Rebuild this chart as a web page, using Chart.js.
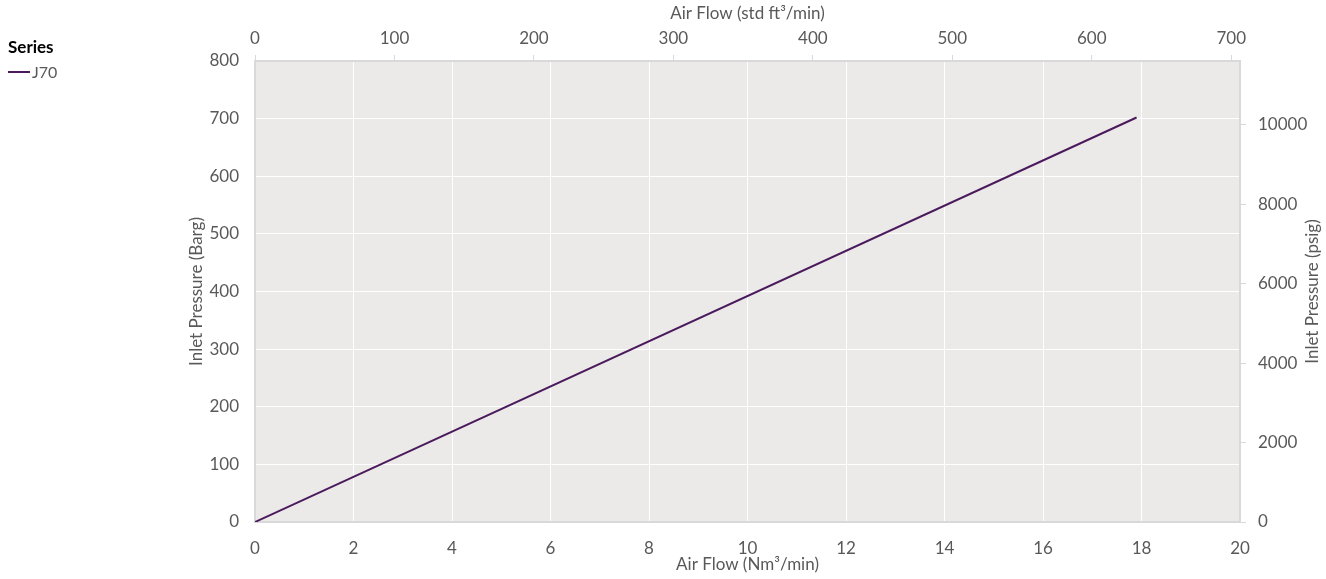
<!DOCTYPE html>
<html><head><meta charset="utf-8">
<script src="https://cdn.jsdelivr.net/npm/chart.js@4/dist/chart.umd.min.js"></script>
<style>
html,body{margin:0;padding:0;background:#fff;}
#wrap{position:relative;width:1326px;height:579px;}
#legend{position:absolute;left:8px;top:36px;font-family:Lato,"Open Sans",sans-serif;color:#595959;}
#legend .t{font-weight:bold;font-size:17px;color:#000;}
#legend .i{font-size:16px;margin-top:5px;display:flex;align-items:center;}
#legend .sw{display:inline-block;width:22px;height:2px;background:#4A1A5C;margin-right:2px;}
</style></head><body>
<div id="wrap"><canvas id="c" width="1326" height="579"></canvas>
<div id="legend"><div class="t">Series</div><div class="i"><span class="sw"></span>J70</div></div></div>
<script>
const seriesName = 'J70';
const flowNm3 = [0, 17.9];
const pressureBarg = [0, 702];
const bottomTicks = [0,2,4,6,8,10,12,14,16,18,20];
const topTicks = [0,100,200,300,400,500,600,700];
const leftTicks = [0,100,200,300,400,500,600,700,800];
const rightTicks = [0,2000,4000,6000,8000,10000];
const titles = {
  bottom: 'Air Flow (Nm³/min)', top: 'Air Flow (std ft³/min)',
  left: 'Inlet Pressure (Barg)', right: 'Inlet Pressure (psig)'
};
const NM3_TO_SCF = 35.3147;
const BAR_TO_PSI = 14.5038;

const tickColor = '#595959';
const fam = 'Lato, "Open Sans", sans-serif';
const font = {family: fam, size: 17};

const bgPlugin = {
  id: 'bg',
  beforeDraw(chart){
    const a = chart.chartArea, ctx = chart.ctx;
    ctx.save(); ctx.fillStyle = '#ECEAE8';
    ctx.fillRect(a.left, a.top, a.right - a.left, a.bottom - a.top);
    ctx.restore();
  }
};
const titlePlugin = {
  id: 'titles',
  afterDraw(chart){
    const a = chart.chartArea, ctx = chart.ctx;
    ctx.save();
    ctx.fillStyle = tickColor; ctx.font = '17px ' + fam;
    ctx.textAlign = 'center'; ctx.textBaseline = 'middle';
    const cx = (a.left + a.right) / 2, cy = (a.top + a.bottom) / 2;
    ctx.fillText(titles.top, cx, 14);
    ctx.fillText(titles.bottom, cx, a.bottom + 43);
    ctx.save(); ctx.translate(a.left - 58, cy); ctx.rotate(-Math.PI/2);
    ctx.fillText(titles.left, 0, 0); ctx.restore();
    ctx.save(); ctx.translate(a.right + 73, cy); ctx.rotate(-Math.PI/2);
    ctx.fillText(titles.right, 0, 0); ctx.restore();
    ctx.restore();
  }
};
function fixed(size, horiz){
  return function(s){ if(horiz) s.height = size; else s.width = size; };
}
new Chart(document.getElementById('c'), {
  type: 'scatter',
  data: { datasets: [{
    label: seriesName,
    data: flowNm3.map((x,i)=>({x:x, y:pressureBarg[i]})),
    showLine: true, borderColor: '#4A1A5C', borderWidth: 2, pointRadius: 0,
    xAxisID: 'x', yAxisID: 'y'
  }]},
  options: {
    responsive: false, animation: false,
    layout: {padding: 0},
    plugins: {legend: {display: false}, tooltip: {enabled: false}},
    scales: {
      x: {
        type: 'linear', position: 'bottom', min: 0, max: 20,
        afterBuildTicks: s => { s.ticks = bottomTicks.map(v=>({value:v})); },
        afterFit: fixed(57, true),
        ticks: {color: tickColor, font: font, padding: 16, maxRotation: 0, callback: v => String(v)},
        grid: {color: '#FFFFFF', lineWidth: 1, drawTicks: false},
        border: {color: '#D9D9D9', width: 2}
      },
      x2: {
        type: 'linear', position: 'top', min: 0, max: 20 * NM3_TO_SCF,
        afterBuildTicks: s => { s.ticks = topTicks.map(v=>({value:v})); },
        afterFit: fixed(61, true),
        ticks: {color: tickColor, font: font, padding: 6, maxRotation: 0, callback: v => String(v)},
        grid: {drawOnChartArea: false, color: '#D9D9D9', tickLength: 6},
        border: {color: '#D9D9D9', width: 2}
      },
      y: {
        type: 'linear', position: 'left', min: 0, max: 800,
        afterBuildTicks: s => { s.ticks = leftTicks.map(v=>({value:v})); },
        afterFit: fixed(255, false),
        ticks: {color: tickColor, font: font, padding: 16, callback: v => String(v)},
        grid: {color: '#FFFFFF', lineWidth: 1, drawTicks: false},
        border: {color: '#D9D9D9', width: 2}
      },
      y2: {
        type: 'linear', position: 'right', min: 0, max: 800 * BAR_TO_PSI,
        afterBuildTicks: s => { s.ticks = rightTicks.map(v=>({value:v})); },
        afterFit: fixed(86, false),
        ticks: {color: tickColor, font: font, padding: 12, callback: v => String(v)},
        grid: {drawOnChartArea: false, color: '#D9D9D9', tickLength: 6},
        border: {color: '#D9D9D9', width: 2}
      }
    }
  },
  plugins: [bgPlugin, titlePlugin]
});
</script></body></html>
